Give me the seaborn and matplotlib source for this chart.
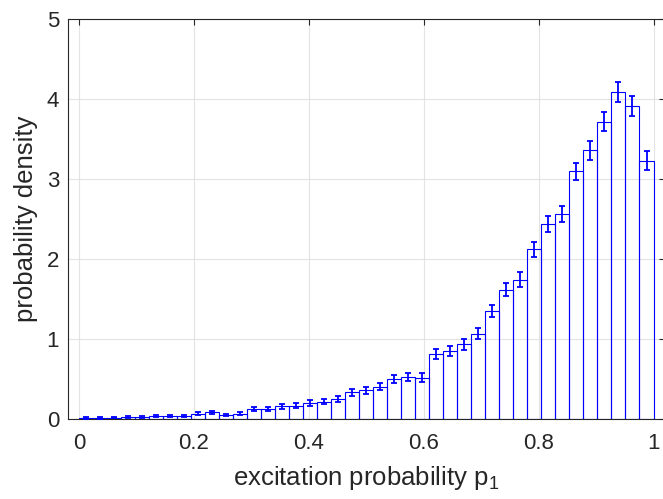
import numpy as np
import pandas as pd
import matplotlib
matplotlib.use("Agg")
import matplotlib.pyplot as plt
import seaborn as sns

# Histogram of excitation probability: 41 equal bins on [0, 1]
n_bins = 41
density = [0.012, 0.014, 0.016, 0.022, 0.030, 0.036, 0.033, 0.040, 0.066, 0.082,
           0.052, 0.064, 0.127, 0.122, 0.158, 0.166, 0.200, 0.217, 0.254, 0.332,
           0.358, 0.404, 0.498, 0.524, 0.518, 0.812, 0.850, 0.933, 1.067, 1.346,
           1.617, 1.742, 2.121, 2.442, 2.567, 3.096, 3.358, 3.717, 4.088, 3.908,
           3.229]
errors = [0.008, 0.008, 0.009, 0.010, 0.012, 0.013, 0.013, 0.014, 0.018, 0.020,
          0.016, 0.018, 0.025, 0.025, 0.028, 0.029, 0.032, 0.033, 0.036, 0.040,
          0.042, 0.045, 0.050, 0.050, 0.052, 0.065, 0.065, 0.067, 0.070, 0.075,
          0.083, 0.090, 0.094, 0.100, 0.100, 0.110, 0.115, 0.117, 0.120, 0.125,
          0.115]
x_ticks = [0, 0.2, 0.4, 0.6, 0.8, 1]
x_ticklabels = ["0", "0.2", "0.4", "0.6", "0.8", "1"]
y_ticks = [0, 1, 2, 3, 4, 5]

edges = np.linspace(0, 1, n_bins + 1)
centers = 0.5 * (edges[:-1] + edges[1:])
df = pd.DataFrame({"p1": centers, "density": density, "err": errors})

sns.set_style("whitegrid")
plt.rcParams["font.family"] = ["Liberation Sans", "DejaVu Sans"]
plt.rcParams["mathtext.default"] = "regular"

fig = plt.figure(figsize=(6.63, 4.99), dpi=100)
ax = fig.add_axes([67.5 / 663, 80 / 499, 597.5 / 663, 400 / 499])

blue = (0, 0, 1)
sns.histplot(data=df, x="p1", weights="density", bins=n_bins, binrange=(0, 1),
             stat="count", fill=False, element="bars", color=blue,
             linewidth=0.8, ax=ax)
ax.errorbar(df["p1"], df["density"], yerr=df["err"], fmt="none",
            ecolor=blue, elinewidth=1.3, capsize=2.2, capthick=1.3, zorder=4)

ax.set_xlim(-0.02, 1.02)
ax.set_ylim(0, 5)
ax.set_xticks(x_ticks)
ax.set_xticklabels(x_ticklabels)
ax.set_yticks(y_ticks)

ax.grid(True, color="#e3e3e3", linewidth=0.8)
ax.set_axisbelow(True)
for s in ax.spines.values():
    s.set_visible(True)
    s.set_color("#262626")
    s.set_linewidth(0.8)
ax.tick_params(axis="both", direction="in", length=4, width=0.8,
               color="#262626", labelcolor="#262626", labelsize=16,
               top=True, right=True)
ax.tick_params(axis="x", pad=10)
ax.tick_params(axis="y", pad=6)

ax.set_xlabel("excitation probability p$_1$", fontsize=18.5, color="#262626",
              labelpad=7)
ax.set_ylabel("probability density", fontsize=18.5, color="#262626",
              labelpad=6)

fig.savefig("out.png", dpi=100)
